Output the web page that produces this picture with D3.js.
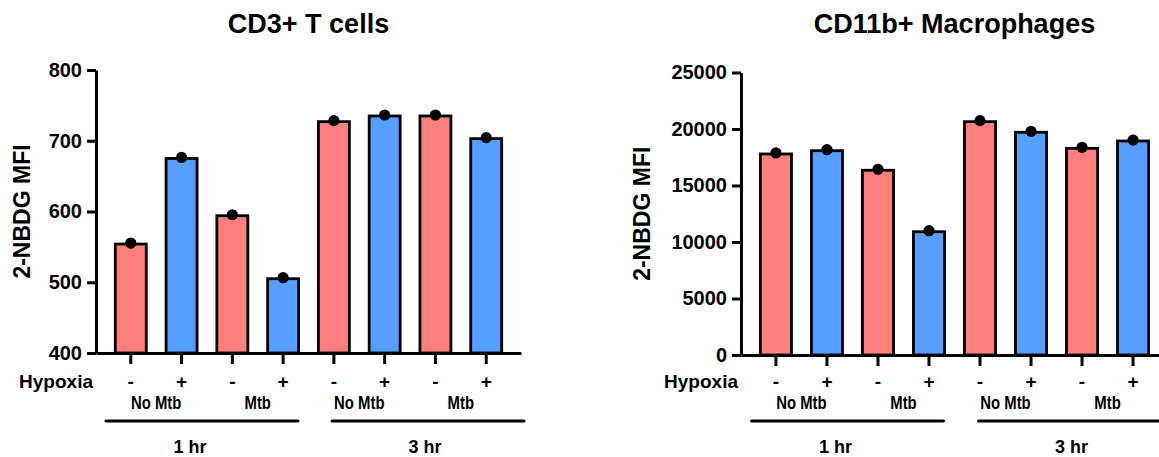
<!DOCTYPE html>
<html>
<head>
<meta charset="utf-8">
<script src="https://cdn.jsdelivr.net/npm/d3@7"></script>
<style>
    body { margin: 0; background: #fff; }
    svg { display: block; font-family: "Liberation Sans", Arial, sans-serif; }
    .axis path, .axis line { stroke: #000; stroke-width: 3; }
    .axis text { font-size: 20px; font-weight: bold; fill: #000; }
    .title { font-size: 27px; font-weight: bold; }
    .ylabel { font-size: 23px; font-weight: bold; }
    .sign, .hyp { font-size: 19px; font-weight: bold; }
    .inf { font-size: 17.5px; font-weight: bold; }
    .time { font-size: 18px; font-weight: bold; }
</style>
</head>
<body>
<script>
// chart data
var categories = ["1hr NoMtb -", "1hr NoMtb +", "1hr Mtb -", "1hr Mtb +",
                  "3hr NoMtb -", "3hr NoMtb +", "3hr Mtb -", "3hr Mtb +"];
var hypoxia = ["-", "+", "-", "+", "-", "+", "-", "+"];
var infection = ["No Mtb", "Mtb", "No Mtb", "Mtb"];
var timepoints = ["1 hr", "3 hr"];
var tcellValues = [554, 675, 594, 505, 727, 735, 735, 703];
var macroValues = [17790, 18080, 16350, 10910, 20650, 19710, 18290, 18940];
var tcellTicks = [400, 500, 600, 700, 800];
var macroTicks = [0, 5000, 10000, 15000, 20000, 25000];

(function(){

    var colors = ["#FF7F7F", "#559EFF"]; // normoxia, hypoxia

    var svg = d3.select("body")
        .append("svg")
        .attr("width", 1159)
        .attr("height", 457);

    setPanel({
        title: "CD3+ T cells",
        values: tcellValues,
        ticks: tcellTicks,
        left: 96, right: 521,
        top: 70, bottom: 353,
        labelX: 30
    });

    setPanel({
        title: "CD11b+ Macrophages",
        values: macroValues,
        ticks: macroTicks,
        left: 741, right: 1168,
        top: 72.5, bottom: 355,
        labelX: 650
    });

    function setPanel(p){

        var g = svg.append("g");

        var x = d3.scaleBand()
            .domain(categories)
            .range([p.left, p.right])
            .paddingInner(0.39)
            .paddingOuter(0.38);

        var y = d3.scaleLinear()
            .domain(d3.extent(p.ticks))
            .range([p.bottom, p.top]);

        var base = d3.min(p.ticks);
        var cx = function(d){ return x(d) + x.bandwidth() / 2; };

        //title
        g.append("text")
            .attr("class", "title")
            .attr("x", (p.left + p.right) / 2)
            .attr("y", 33)
            .attr("text-anchor", "middle")
            .text(p.title);

        //y axis label
        g.append("text")
            .attr("class", "ylabel")
            .attr("transform", "translate(" + p.labelX + "," + ((p.top + p.bottom) / 2) + ") rotate(-90)")
            .attr("text-anchor", "middle")
            .text("2-NBDG MFI");

        //bars
        g.selectAll(".bar")
            .data(p.values)
            .enter()
            .append("rect")
            .attr("class", "bar")
            .attr("x", function(d, i){ return x(categories[i]); })
            .attr("width", x.bandwidth())
            .attr("y", function(d){ return y(d); })
            .attr("height", function(d){ return y(base) - y(d); })
            .style("fill", function(d, i){ return colors[i % 2]; })
            .style("stroke", "#000")
            .style("stroke-width", 2.8);

        //y axis
        g.append("g")
            .attr("class", "axis")
            .attr("transform", "translate(" + p.left + ",0)")
            .call(d3.axisLeft(y).tickValues(p.ticks).tickSize(9).tickSizeOuter(0).tickPadding(5).tickFormat(d3.format("d")));

        //x axis
        g.append("g")
            .attr("class", "axis")
            .attr("transform", "translate(0," + p.bottom + ")")
            .call(d3.axisBottom(x).tickSize(11).tickSizeOuter(0).tickFormat(""));

        //replicate points
        g.selectAll(".dot")
            .data(p.values)
            .enter()
            .append("circle")
            .attr("cx", function(d, i){ return cx(categories[i]); })
            .attr("cy", function(d){ return y(d) - 1; })
            .attr("r", 5.6)
            .style("fill", "#000");

        //hypoxia row
        g.append("text")
            .attr("class", "hyp")
            .attr("x", p.left - 3)
            .attr("y", 388)
            .attr("text-anchor", "end")
            .text("Hypoxia");

        g.selectAll(".sign")
            .data(hypoxia)
            .enter()
            .append("text")
            .attr("class", "sign")
            .attr("x", function(d, i){ return cx(categories[i]); })
            .attr("y", 388)
            .attr("text-anchor", "middle")
            .text(function(d){ return d; });

        //infection labels under each pair of bars (condensed like the original)
        g.selectAll(".inf")
            .data(infection)
            .enter()
            .append("text")
            .attr("class", "inf")
            .attr("transform", function(d, i){
                var mx = (cx(categories[2 * i]) + cx(categories[2 * i + 1])) / 2;
                return "translate(" + mx + ",409) scale(0.85,1)";
            })
            .attr("text-anchor", "middle")
            .text(function(d){ return d; });

        //time groups: line + label
        var lineShift = [-5, 18],
            labelShift = [-17, 15];
        timepoints.forEach(function(t, k){
            var mid = (x(categories[4 * k]) + x(categories[4 * k + 3]) + x.bandwidth()) / 2;
            g.append("line")
                .attr("x1", mid + lineShift[k] - 96)
                .attr("x2", mid + lineShift[k] + 96)
                .attr("y1", 421)
                .attr("y2", 421)
                .style("stroke", "#000")
                .style("stroke-width", 3)
                .style("stroke-linecap", "round");
            g.append("text")
                .attr("class", "time")
                .attr("x", mid + labelShift[k])
                .attr("y", 453)
                .attr("text-anchor", "middle")
                .text(t);
        });
    }

})();
</script>
</body>
</html>
